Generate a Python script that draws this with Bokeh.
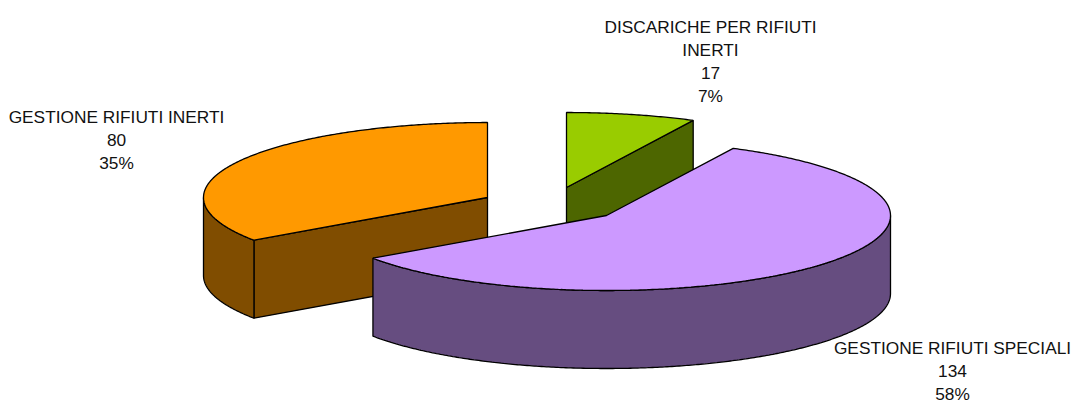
import numpy as np
from bokeh.plotting import figure
from bokeh.embed import file_html
from bokeh.resources import INLINE
from bokeh.core.properties import value

# Data
categories = ["DISCARICHE PER RIFIUTI INERTI", "GESTIONE RIFIUTI SPECIALI", "GESTIONE RIFIUTI INERTI"]
values = [17, 134, 80]

# Label lines for each category's name
name_lines = [["DISCARICHE PER RIFIUTI", "INERTI"], ["GESTIONE RIFIUTI SPECIALI"], ["GESTIONE RIFIUTI INERTI"]]

# Styles and layout (page pixel space)
top_colors = ["#99CC00", "#CC99FF", "#FF9900"]
side_colors = ["#4D6600", "#664D80", "#804D00"]
centers = [(566, 187), (606, 215), (487, 197)]
label_x = [710, 952, 116]
label_y = [26, 347, 116]
line_step = 23.3
RX, RY, DEPTH = 284, 75, 78
W, H = 1073, 404
LW = 1.3

p = figure(width=W, height=H, output_backend="svg", toolbar_location=None,
           x_range=(0, W), y_range=(H, 0), min_border=0,
           outline_line_color=None, background_fill_color="white")
p.xaxis.visible = False
p.yaxis.visible = False
p.grid.visible = False


def pt(c, t, dz=0):
    r = np.radians(t)
    return c[0] + RX * np.cos(r), c[1] - RY * np.sin(r) + dz


def arc(c, a, b, dz=0):
    n = max(2, int(abs(b - a) * 2) + 1)
    ts = np.linspace(a, b, n)
    return pt(c, ts, dz)


total = sum(values)
hi = 90.0
spans = []
for v in values:
    lo = hi - 360.0 * v / total
    spans.append((lo, hi))
    hi = lo

for i in [0, 2, 1]:  # back to front: green, orange, purple
    lo, hi = spans[i]
    c = centers[i]
    side = side_colors[i]
    for t, visible in ((lo, np.cos(np.radians(lo)) > 1e-6), (hi, np.cos(np.radians(hi)) < -1e-6)):
        if visible:
            ex, ey = pt(c, t)
            p.patch([c[0], ex, ex, c[0]], [c[1], ey, ey + DEPTH, c[1] + DEPTH],
                    fill_color=side, line_color="black", line_width=LW)
    # outer wall: the part of the rim that faces the viewer
    for shift in (0, 360, -360):
        a = max(lo + shift, 180)
        b = min(hi + shift, 360)
        if b > a:
            x1, y1 = arc(c, a, b)
            x2, y2 = arc(c, b, a, DEPTH)
            p.patch(list(x1) + list(x2), list(y1) + list(y2),
                    fill_color=side, line_color="black", line_width=LW)
    x, y = arc(c, lo, hi)
    p.patch([c[0]] + list(x), [c[1]] + list(y),
            fill_color=top_colors[i], line_color="black", line_width=LW)

for i, cat in enumerate(categories):
    lines = name_lines[i] + [str(values[i]), f"{round(100 * values[i] / total)}%"]
    ys = [label_y[i] + k * line_step for k in range(len(lines))]
    p.text(x=[label_x[i]] * len(lines), y=ys, text=lines,
           text_font=value("Liberation Sans"), text_font_size="17.3px",
           text_color="#111111", text_align="center", text_baseline="middle")

open("out.html", "w").write(file_html(p, INLINE))
